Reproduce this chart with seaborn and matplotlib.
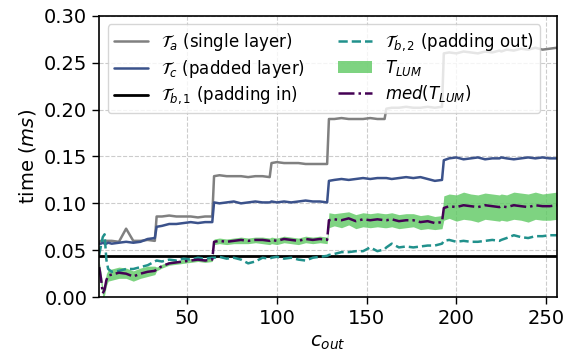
import numpy as np
import seaborn as sns
import matplotlib.pyplot as plt

# output channels (sampled)
c_out = [1, 2, 3, 4, 5, 6, 8, 12, 16, 20, 24, 28, 32,
         33, 36, 40, 44, 48, 52, 56, 60, 64,
         65, 68, 72, 76, 80, 84, 88, 92, 96,
         97, 100, 104, 108, 112, 116, 120, 124, 128,
         129, 132, 136, 140, 144, 148, 152, 156, 160,
         161, 164, 168, 172, 176, 180, 184, 188, 192,
         193, 196, 200, 204, 208, 212, 216, 220, 224,
         225, 228, 232, 236, 240, 244, 248, 252, 256]

# times in microseconds
t_a_us = [59, 60, 60, 59, 60, 60, 60, 59, 73, 60, 60, 61, 60,
          86, 86, 87, 86, 86, 86, 85, 86, 86,
          129, 130, 129, 129, 129, 128, 129, 129, 128,
          143, 144, 143, 143, 143, 142, 142, 142, 142,
          190, 190, 191, 190, 190, 190, 191, 190, 190,
          201, 202, 202, 203, 202, 202, 203, 202, 203,
          260, 261, 260, 262, 261, 260, 262, 261, 263,
          262, 264, 263, 265, 264, 266, 264, 265, 266]

t_c_us = [57, 57, 58, 57, 57, 58, 57, 58, 59, 58, 59, 62, 63,
          75, 76, 78, 78, 79, 80, 79, 80, 80,
          101, 100, 101, 102, 100, 101, 102, 101, 101,
          102, 101, 102, 101, 102, 103, 102, 102, 101,
          124, 125, 126, 125, 126, 127, 126, 127, 127,
          127, 126, 127, 128, 127, 128, 126, 124, 125,
          146, 148, 149, 147, 148, 149, 147, 148, 148,
          149, 148, 147, 148, 149, 148, 149, 148, 148]

t_b1_us = 43.5

t_b2_us = [45, 55, 64, 67, 40, 30, 27, 28, 30, 30, 32, 34, 38,
           39, 38, 40, 39, 41, 40, 42, 41, 42,
           42, 43, 41, 42, 40, 36, 38, 42, 41,
           42, 43, 41, 42, 40, 39, 42, 43, 44,
           45, 46, 48, 48, 49, 49, 53, 49, 51,
           53, 57, 53, 54, 53, 54, 55, 55, 57,
           60, 61, 59, 60, 59, 59, 60, 61, 60,
           61, 63, 66, 64, 63, 65, 65, 66, 66]

lum_med_us = [32, 20, 4, 8, 18, 23, 24, 26, 25, 22, 25, 27, 28,
              30, 33, 36, 37, 38, 39, 40, 39, 40,
              59, 60, 59, 60, 61, 60, 61, 61, 60,
              61, 60, 62, 61, 60, 62, 61, 62, 61,
              82, 83, 82, 84, 81, 83, 82, 83, 82,
              82, 83, 81, 82, 82, 80, 81, 79, 80,
              95, 97, 96, 98, 97, 96, 98, 97, 96,
              97, 96, 98, 97, 96, 98, 97, 97, 98]

lum_lo_us = [26, 14, 0, 2, 12, 17, 18, 20, 20, 17, 20, 22, 24,
             28, 31, 34, 35, 36, 37, 38, 37, 38,
             56, 57, 56, 57, 57, 57, 58, 57, 56,
             57, 56, 58, 57, 56, 58, 57, 58, 57,
             74, 76, 74, 77, 73, 75, 74, 75, 74,
             74, 75, 73, 74, 75, 72, 73, 72, 73,
             82, 84, 81, 83, 82, 80, 83, 82, 81,
             82, 81, 83, 82, 80, 83, 82, 82, 83]

lum_hi_us = [38, 27, 10, 14, 25, 29, 30, 32, 31, 28, 31, 33, 33,
             32, 35, 38, 39, 40, 41, 42, 41, 42,
             62, 63, 62, 63, 64, 63, 64, 64, 63,
             64, 63, 65, 64, 63, 65, 64, 65, 64,
             90, 89, 90, 91, 88, 90, 89, 90, 89,
             89, 90, 88, 89, 89, 87, 88, 86, 87,
             108, 110, 109, 112, 110, 109, 111, 110, 109,
             110, 109, 112, 111, 110, 112, 110, 111, 112]

x = np.array(c_out)
ms = lambda v: np.array(v) / 1000.0

sns.set_style("whitegrid", {"grid.linestyle": "--", "axes.edgecolor": "black",
                            "xtick.bottom": True, "ytick.left": True,
                            "text.color": "black", "axes.labelcolor": "black",
                            "xtick.color": "black", "ytick.color": "black"})

fig, ax = plt.subplots(figsize=(5.7, 3.61), dpi=100)

sns.lineplot(x=x, y=ms(t_a_us), ax=ax, color="gray", lw=1.8,
             label=r"$\mathcal{T}_a$ (single layer)")
sns.lineplot(x=x, y=ms(t_c_us), ax=ax, color="#3b528b", lw=1.8,
             label=r"$\mathcal{T}_c$ (padded layer)")
ax.axhline(t_b1_us / 1000.0, color="black", lw=2,
           label=r"$\mathcal{T}_{b,1}$ (padding in)")
sns.lineplot(x=x, y=ms(t_b2_us), ax=ax, color="#21918c", lw=1.8,
             linestyle="--", label=r"$\mathcal{T}_{b,2}$ (padding out)")
ax.fill_between(x, ms(lum_lo_us), ms(lum_hi_us), color="#5ec962",
                alpha=0.8, lw=0, label=r"$T_{LUM}$")
sns.lineplot(x=x, y=ms(lum_med_us), ax=ax, color="#440154", lw=1.8,
             linestyle="-.", label=r"$med(T_{LUM})$")

ax.set_xlim(1, 256)
ax.set_ylim(0, 0.30)
ax.set_yticks([0, 0.05, 0.10, 0.15, 0.20, 0.25, 0.30])
ax.set_xticks([50, 100, 150, 200, 250])
ax.yaxis.set_major_formatter(plt.FormatStrFormatter("%.2f"))
ax.tick_params(labelsize=14, length=5, width=1, color="black", direction="out")
for s in ax.spines.values():
    s.set_linewidth(1.2)

ax.set_xlabel(r"$c_{out}$", fontsize=14)
ax.set_ylabel(r"time ($ms$)", fontsize=14)
ax.legend(loc="upper left", ncol=2, fontsize=12, labelspacing=0.3)

plt.subplots_adjust(left=0.174, right=0.977, top=0.956, bottom=0.177)
plt.savefig("out.png", dpi=100)
